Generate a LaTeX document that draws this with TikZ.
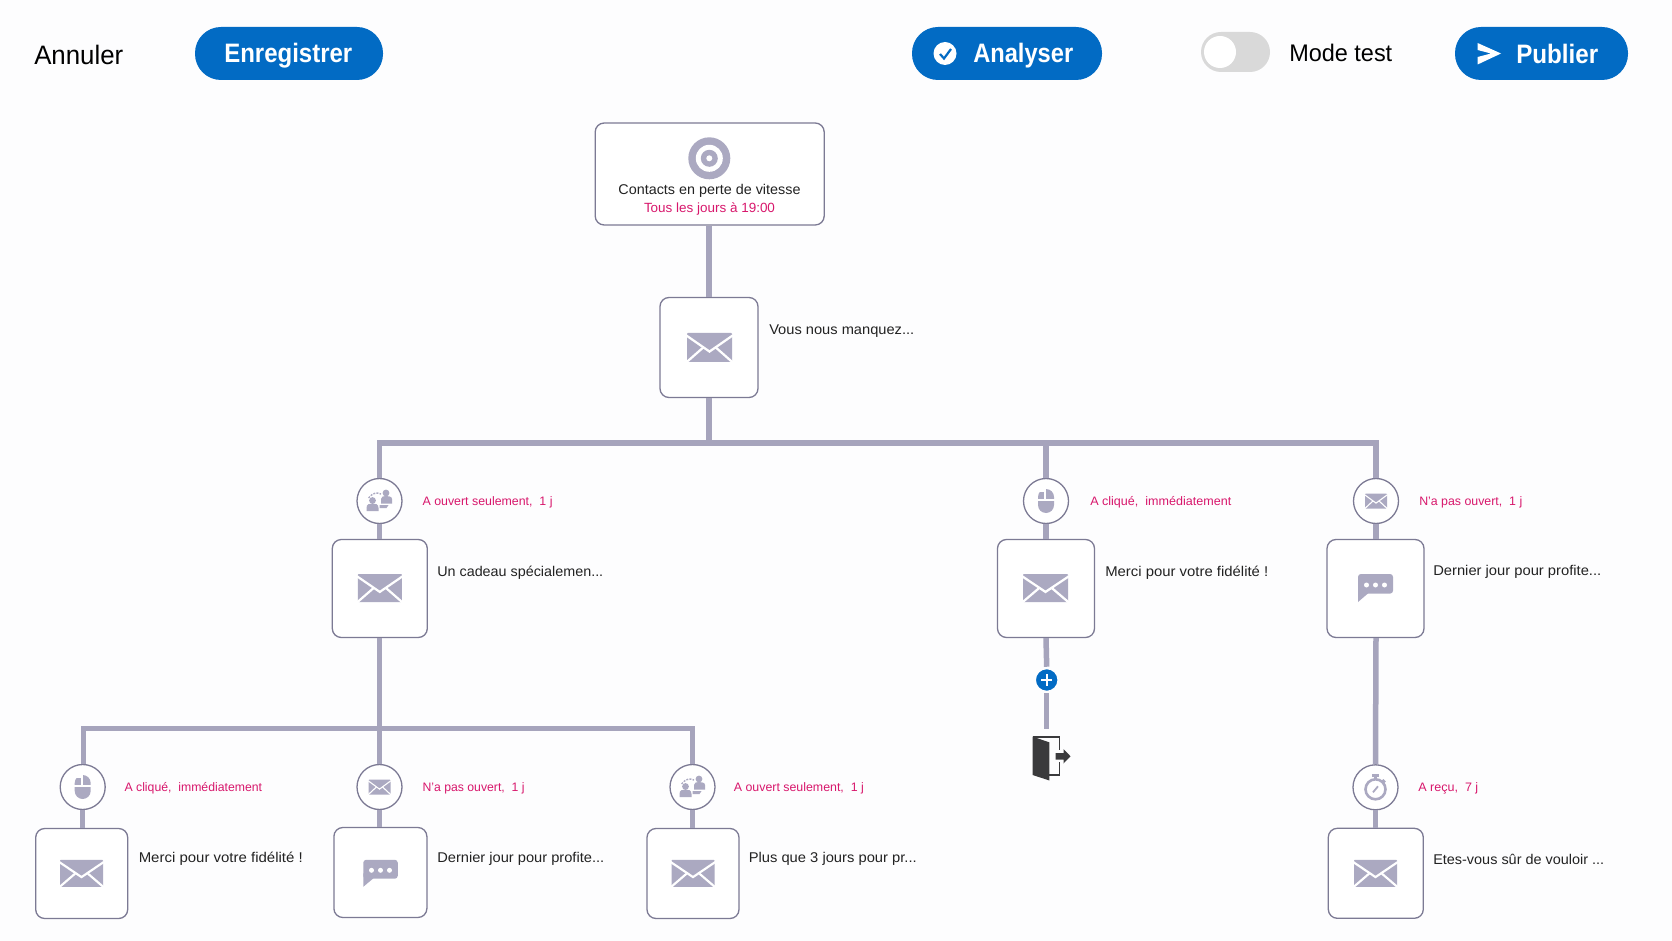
\documentclass[tikz,border=0pt]{standalone}
\usepackage{fontspec}
\usepackage{graphicx}
\setmainfont{Liberation Sans}
\usetikzlibrary{calc}
\definecolor{edgeC}{HTML}{A6A4BC}
\definecolor{lineC}{HTML}{7C7A94}
\definecolor{iconC}{HTML}{ABA9C1}
\definecolor{blueC}{HTML}{026BC4}
\definecolor{magC}{HTML}{D8176C}
\definecolor{txtC}{HTML}{222222}
\definecolor{darkC}{HTML}{3A3A3C}
\definecolor{paperC}{HTML}{FDFDFE}
\newdimen\pxu \pxu=0.75pt
\newcommand{\fitw}[2]{\resizebox{#1\pxu}{\height}{#2}}
\tikzset{
  mbox/.style={draw=lineC,line width=1.3\pxu,fill=white,rounded corners=9\pxu,inner sep=0pt},
  cond/.style={circle,draw=lineC,line width=1.3\pxu,fill=white,inner sep=0pt,minimum size=45\pxu},
  edgeL/.style={draw=edgeC,line width=5.5\pxu},
  msg/.style={anchor=west,inner sep=0pt,yshift=-1.3\pxu,text=txtC,font=\fontsize{10.6pt}{12pt}\selectfont},
  lab/.style={anchor=west,inner sep=0pt,yshift=-1.3\pxu,text=magC,font=\fontsize{9.2pt}{11pt}\selectfont},
  btn/.style={fill=blueC,rounded corners=26\pxu},
  btntxt/.style={anchor=west,inner sep=0pt,text=white,font=\fontsize{20pt}{22pt}\selectfont\bfseries},
}
% icons, w and h given in px, drawn round a centre
\newcommand{\envicon}[4]{\begin{scope}[shift={(#1,#2)},xscale=#3,yscale=#4]
  \fill[iconC,rounded corners=0.6pt] (-.5,-.5) rectangle (.5,.5);
  \draw[white,line width={#3*0.0375pt}] (-.52,-.42) -- (0,.14) -- (.52,-.42);
  \draw[white,line width={#3*0.0375pt}] (-.52,.52) -- (-.14,.0);
  \draw[white,line width={#3*0.0375pt}] (.52,.52) -- (.14,.0);
\end{scope}}
\newcommand{\chaticon}[4]{\begin{scope}[shift={(#1,#2)},xscale=#3,yscale=#4]
  \fill[iconC,rounded corners=2.2pt] (-.5,-.5) rectangle (.5,.2);
  \fill[iconC] (-.5,0) -- (-.5,.5) -- (-.22,.2) -- (-.1,0) -- cycle;
\end{scope}
\fill[white] (#1-9,#2-3) circle (2.5) (#1,#2-3) circle (2.5) (#1+9,#2-3) circle (2.5);}
\newcommand{\mouseicon}[2]{\begin{scope}[shift={(#1,#2)}]
  \fill[iconC,rounded corners=6pt] (-8,-12) rectangle (8,12);
  \draw[white,line width=1.6\pxu] (-9,-1) -- (9,-1);
  \draw[white,line width=1.6\pxu] (-1,-13) -- (-1,-1);
  \fill[white] (-9,-13) rectangle (-1.5,-9);
\end{scope}}
\newcommand{\peopleicon}[2]{\begin{scope}[shift={(#1,#2)}]
  \fill[iconC] (-7,-0.5) circle (3.4);
  \fill[iconC] (-13,10) -- (-13,7) .. controls (-13,3) and (-10,2.5) .. (-7,2.5) .. controls (-4,2.5) and (-1,3) .. (-1,7) -- (-1,10) -- cycle;
  \fill[iconC] (6.5,-8) circle (3.4);
  \fill[iconC] (1.5,2.5) -- (1.5,-2) .. controls (1.5,-4.5) and (4,-5) .. (6.5,-5) .. controls (9,-5) and (12.5,-4.5) .. (12.5,-2) -- (12.5,2.5) -- cycle;
  \fill[iconC] (0,4) -- (9,4) -- (7,7) -- (0,7) -- cycle;
  \draw[iconC,line width=1.4\pxu,dash pattern=on 2\pxu off 1.2\pxu] (-11,-3) .. controls (-7,-8) and (-3,-9) .. (1.5,-7);
\end{scope}}
\newcommand{\watchicon}[2]{\begin{scope}[shift={(#1,#2)}]
  \draw[iconC,line width=2.6\pxu] (0,2) circle (10);
  \fill[iconC] (-3.5,-13) rectangle (3.5,-10.5);
  \fill[iconC] (-1.3,-11) rectangle (1.3,-8);
  \draw[iconC,line width=2.2\pxu] (7,-7.5) -- (9.5,-5);
  \draw[iconC,line width=1.8\pxu] (-2.5,5) -- (2.5,-1);
\end{scope}}
\begin{document}
\begin{tikzpicture}[x=0.75pt,y=-0.75pt]
\useasboundingbox (0,0) rectangle (1672,941);
\fill[fill=paperC] (0,0) rectangle (1672,941);
% top bar
\node[anchor=west,inner sep=0pt,text=black,font=\fontsize{20pt}{22pt}\selectfont] (annuler) at (34,54.5) {\fitw{89}{Annuler}};
\fill[btn] (195,27) rectangle (383,80);
\node[btntxt] (enreg) at (224,55.5) {\fitw{128}{Enregistrer}};
\fill[btn] (912,27) rectangle (1102,80);
\node[circle,fill=white,inner sep=0pt,minimum size=23\pxu] (chk) at (945,53.5) {};
\draw[blueC,line width=2.2\pxu] (940,54) -- (944,58.5) -- (951,49);
\node[btntxt] (analyser) at (973,55.5) {\fitw{100}{Analyser}};
\fill[fill=black!15,rounded corners=15pt] (1201,32) rectangle (1270,72);
\fill[white] (1220,52) circle (16);
\node[anchor=west,inner sep=0pt,text=black,font=\fontsize{18pt}{20pt}\selectfont] (mode) at (1289,53) {\fitw{103}{Mode test}};
\fill[btn] (1455,27) rectangle (1628,80);
\fill[white] (1477.6,43) -- (1501,53.5) -- (1477.6,64.5) -- (1477.6,57) -- (1491,53.5) -- (1477.6,50) -- cycle;
\node[btntxt] (publier) at (1516,54) {\fitw{82}{Publier}};

% target
\node[mbox,minimum width=229\pxu,minimum height=102\pxu] (tgt) at (709.7,174) {};
\fill[iconC] (709.3,158.3) circle (21);
\fill[white] (709.3,158.3) circle (13.5);
\fill[iconC] (709.3,158.3) circle (8.5);
\fill[white] (709.3,158.3) circle (3);
\node[inner sep=0pt,text=txtC,font=\fontsize{10.6pt}{12pt}\selectfont] (tgtA) at (709.5,190.5) {\fitw{182}{Contacts en perte de vitesse}};
\node[inner sep=0pt,text=magC,font=\fontsize{10pt}{12pt}\selectfont] (tgtB) at (709.5,209) {\fitw{131}{Tous les jours à 19:00}};

% first mail
\node[mbox,minimum width=98\pxu,minimum height=100\pxu] (m1) at (709,347.5) {};
\envicon{709.5}{347.5}{45}{29}
\node[msg] (m1t) at (769,330) {\fitw{145}{Vous nous manquez...}};
\coordinate (bus1) at (709,443);

% branch A
\node[cond] (cA) at (379.5,501) {};
\peopleicon{379.5}{501}
\node[lab] (cAt) at (422.3,501) {\fitw{130}{A ouvert seulement,\ \ 1 j}};
\node[mbox,minimum width=95\pxu,minimum height=98\pxu] (mA) at (379.8,588.5) {};
\envicon{379.8}{588}{44}{28}
\node[msg] (mAt) at (437,571) {\fitw{166}{Un cadeau spécialemen...}};

% branch B
\node[cond] (cB) at (1046,501) {};
\mouseicon{1046}{501}
\node[lab] (cBt) at (1090,501) {\fitw{141}{A cliqué,\ \ immédiatement}};
\node[mbox,minimum width=97\pxu,minimum height=98\pxu] (mB) at (1046,588.5) {};
\envicon{1045.5}{588}{45}{28}
\node[msg] (mBt) at (1105,571) {\fitw{163}{Merci pour votre fidélité !}};
\node[circle,fill=blueC,draw=paperC,line width=2.5\pxu,inner sep=0pt,minimum size=24\pxu] (plus) at (1046.7,680) {};
\draw[white,line width=2.4\pxu] (1041,680) -- (1052.4,680) (1046.7,674.3) -- (1046.7,685.7);
\coordinate (door) at (1046.7,729);
% exit door
\draw[darkC,line width=1.6\pxu] (1033,737) -- (1059.5,737) -- (1059.5,750);
\draw[darkC,line width=1.6\pxu] (1059.5,762) -- (1059.5,775) -- (1049,775);
\fill[darkC] (1032.7,736.7) -- (1049.3,742.3) -- (1049.3,780.5) -- (1032.7,775) -- cycle;
\fill[darkC] (1055.7,753) -- (1063.5,753) -- (1063.5,749) -- (1070.5,756.3) -- (1063.5,763.5) -- (1063.5,759.5) -- (1055.7,759.5) -- cycle;

% branch C
\node[cond] (cC) at (1376,501) {};
\envicon{1376}{501}{22}{15}
\node[lab] (cCt) at (1419,501) {\fitw{103}{N'a pas ouvert,\ \ 1 j}};
\node[mbox,minimum width=97\pxu,minimum height=98\pxu] (mC) at (1375.5,588.5) {};
\chaticon{1375.5}{588}{35}{28}
\node[msg] (mCt) at (1433,571) {\fitw{168}{Dernier jour pour profite...}};

% branch D
\node[cond] (cD) at (1375.5,787.3) {};
\watchicon{1375.5}{787.3}
\node[lab] (cDt) at (1418,787) {\fitw{60}{A reçu,\ \ 7 j}};
\node[mbox,minimum width=95\pxu,minimum height=90\pxu] (mD) at (1375.8,873.3) {};
\envicon{1375.5}{873.3}{43}{27}
\node[msg] (mDt) at (1433,857.7) {\fitw{171}{Etes-vous sûr de vouloir ...}};

% lower branches
\coordinate (bus2) at (379.5,728.3);
\node[cond] (cE) at (82.7,787) {};
\mouseicon{82.7}{787}
\node[lab] (cEt) at (124.3,787) {\fitw{137.5}{A cliqué,\ \ immédiatement}};
\node[mbox,minimum width=92\pxu,minimum height=90\pxu] (mE) at (81.7,873.5) {};
\envicon{81.5}{873.3}{43}{27}
\node[msg] (mEt) at (138.5,857.7) {\fitw{164}{Merci pour votre fidélité !}};

\node[cond] (cF) at (379.5,787) {};
\envicon{379.5}{787}{22}{15}
\node[lab] (cFt) at (422.3,787) {\fitw{102}{N'a pas ouvert,\ \ 1 j}};
\node[mbox,minimum width=93\pxu,minimum height=90\pxu] (mF) at (380.4,872.5) {};
\chaticon{380.5}{873.3}{34.5}{27}
\node[msg] (mFt) at (437,857.7) {\fitw{167}{Dernier jour pour profite...}};

\node[cond] (cG) at (692.5,787) {};
\peopleicon{692.5}{787}
\node[lab] (cGt) at (733.6,787) {\fitw{130}{A ouvert seulement,\ \ 1 j}};
\node[mbox,minimum width=92\pxu,minimum height=90\pxu] (mG) at (693,873.5) {};
\envicon{693}{873.3}{43}{27}
\node[msg] (mGt) at (748.5,857.7) {\fitw{168}{Plus que 3 jours pour pr...}};

% connectors
\draw[edgeL] (tgt.south -| m1.north) -- (m1.north);
\draw[edgeL] (m1.south) -- (bus1);
\draw[edgeL,line join=miter] (cA.north) |- (bus1) -| (cC.north);
\draw[edgeL] (cB.north |- bus1) -- (cB.north);
\draw[edgeL] (cA.south) -- (cA.south |- mA.north);
\draw[edgeL] (cB.south) -- (cB.south |- mB.north);
\draw[edgeL] (cC.south) -- (cC.south |- mC.north);
\draw[edgeL] (mB.south) -- (plus.north);
\draw[edgeL] (plus.south) -- (door);
\draw[edgeL] (cC.south |- mC.south) -- (cD.north);
\draw[edgeL] (cD.south) -- (cD.south |- mD.north);
\draw[edgeL] (cA.south |- mA.south) -- (cF.north);
\draw[edgeL,line join=miter] ($(cE.north)+(1,0)$) |- (bus2) -| (cG.north);
\draw[edgeL] (cE.south) -- (cE.south |- mE.north);
\draw[edgeL] (cF.south) -- (cF.south |- mF.north);
\draw[edgeL] (cG.south) -- (cG.south |- mG.north);
\end{tikzpicture}
\end{document}
